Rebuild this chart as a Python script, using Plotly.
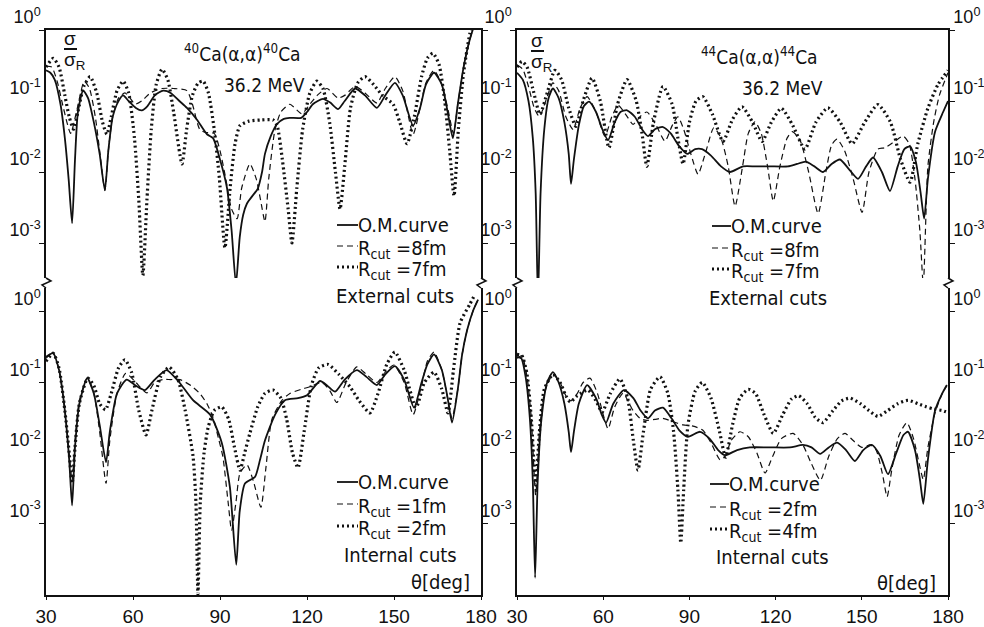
import plotly.graph_objects as go

# ---------------- data (theta in deg, sigma/sigma_R) ----------------
# top-left: 40Ca external cuts
tl_om_x = [30, 31.5, 33, 35, 36.5, 37.8, 39.0, 40.0, 41.0, 42.8, 44.5, 46.5, 48.5, 50.3, 51.5, 53, 55, 56.6, 58.5, 61, 63, 65, 67.5, 70.4, 73, 76, 78.6, 82, 85.5, 87.6, 90, 92.4, 94, 95.5, 96.8, 98, 99.3, 101, 103, 104.5, 105.5, 107.5, 109.6, 112, 114, 118, 120, 122, 125.5, 128, 130.7, 133, 136.6, 140, 144.1, 147, 150.3, 153, 156.6, 159, 161, 163.8, 166.5, 168.5, 170.3, 172, 174, 176, 177.5, 179]
tl_om_y = [0.27, 0.25, 0.2, 0.09, 0.03, 0.008, 0.0019, 0.015, 0.07, 0.14, 0.11, 0.05, 0.018, 0.0055, 0.02, 0.06, 0.10, 0.12, 0.1, 0.08, 0.074, 0.085, 0.12, 0.14, 0.13, 0.1, 0.08, 0.055, 0.034, 0.03, 0.015, 0.006, 0.0015, 0.00026, 0.0012, 0.0025, 0.0036, 0.0045, 0.0058, 0.01, 0.018, 0.032, 0.047, 0.056, 0.058, 0.058, 0.07, 0.09, 0.107, 0.095, 0.077, 0.1, 0.15, 0.12, 0.08, 0.12, 0.18, 0.12, 0.045, 0.08, 0.17, 0.25, 0.17, 0.07, 0.03, 0.09, 0.3, 0.7, 1.1, 1.5]
tl_r8_x = [30, 32, 34, 36, 38.5, 40.5, 43.2, 45, 47, 48.5, 50.3, 51.5, 53, 55, 57.2, 59, 60.7, 63, 66, 70, 74, 78.6, 80.5, 83, 85, 88, 90, 92, 94, 95.9, 97.5, 100.3, 102.5, 104, 105.5, 106.8, 108.9, 111, 114.1, 118.2, 121, 123.5, 126.9, 130.7, 133, 136.6, 140, 144.1, 147, 150.3, 153, 156.6, 159, 161, 163.8, 166.5, 168.5, 170.5, 172, 174, 176, 177.5, 179]
tl_r8_y = [0.31, 0.3, 0.18, 0.08, 0.035, 0.07, 0.19, 0.15, 0.06, 0.02, 0.0055, 0.02, 0.06, 0.11, 0.13, 0.11, 0.09, 0.1, 0.13, 0.15, 0.15, 0.14, 0.09, 0.04, 0.036, 0.035, 0.02, 0.008, 0.003, 0.0022, 0.006, 0.013, 0.008, 0.004, 0.002, 0.008, 0.038, 0.07, 0.09, 0.066, 0.09, 0.12, 0.15, 0.11, 0.12, 0.16, 0.13, 0.094, 0.15, 0.22, 0.14, 0.034, 0.08, 0.18, 0.27, 0.17, 0.08, 0.035, 0.09, 0.3, 0.7, 1.1, 1.5]
tl_r7_x = [30, 32.5, 34.5, 36.5, 38, 39.5, 41, 43, 45.2, 47.5, 49.5, 51, 52.5, 54.5, 56.6, 58.5, 60.5, 62, 63.4, 64.8, 66.3, 68, 70, 72, 74, 76.9, 78.5, 80.5, 82.5, 84.2, 86, 88, 89.8, 91.7, 93.5, 95.2, 96.9, 100, 104, 108.3, 109.7, 111.5, 113.5, 114.8, 116.5, 118.5, 121, 123.4, 125.5, 127.8, 129.8, 131.4, 133, 135, 137.5, 140, 143, 146, 149.7, 152, 154.5, 157, 159.5, 161.5, 163.4, 165.5, 167.5, 169.2, 170.7, 172.2, 174, 176.2, 178]
tl_r7_y = [0.3, 0.4, 0.3, 0.12, 0.06, 0.04, 0.07, 0.16, 0.22, 0.13, 0.05, 0.034, 0.06, 0.14, 0.19, 0.13, 0.03, 0.004, 0.00035, 0.004, 0.04, 0.17, 0.28, 0.2, 0.07, 0.013, 0.04, 0.12, 0.18, 0.19, 0.13, 0.04, 0.008, 0.00085, 0.006, 0.025, 0.045, 0.052, 0.054, 0.054, 0.045, 0.015, 0.003, 0.001, 0.006, 0.04, 0.13, 0.19, 0.15, 0.05, 0.01, 0.003, 0.012, 0.08, 0.18, 0.22, 0.17, 0.12, 0.09, 0.05, 0.025, 0.06, 0.22, 0.4, 0.47, 0.33, 0.1, 0.02, 0.0046, 0.04, 0.25, 0.9, 1.5]

# top-right: 44Ca external cuts
tr_om_x = [30, 32, 34, 35.5, 36.5, 37.3, 38.2, 39.5, 41, 42.5, 44.5, 46.5, 48, 48.8, 49.8, 51.5, 53.3, 55.1, 57.5, 59.7, 61.7, 64, 66, 68.3, 71, 73.5, 75.6, 78, 80.8, 83.5, 86.5, 89.3, 92, 94.4, 97.5, 101, 104.1, 108.7, 113, 118, 124.3, 127.5, 130.5, 133.5, 136.5, 139.5, 142.4, 145.5, 148.7, 151.5, 153.9, 157, 159.8, 162.5, 164.8, 166.8, 168.8, 170.5, 171.7, 173, 175.5, 178.3, 180]
tr_om_y = [0.25, 0.2, 0.1, 0.03, 0.005, 0.00015, 0.005, 0.04, 0.11, 0.15, 0.11, 0.05, 0.018, 0.0068, 0.015, 0.045, 0.085, 0.098, 0.07, 0.04, 0.028, 0.05, 0.07, 0.074, 0.06, 0.04, 0.032, 0.04, 0.043, 0.035, 0.023, 0.018, 0.021, 0.021, 0.017, 0.012, 0.01, 0.012, 0.012, 0.012, 0.012, 0.013, 0.014, 0.012, 0.01, 0.013, 0.015, 0.011, 0.008, 0.012, 0.016, 0.01, 0.0054, 0.012, 0.021, 0.023, 0.014, 0.005, 0.0022, 0.008, 0.037, 0.07, 0.1]
tr_r8_x = [30, 32, 34, 36, 37.8, 40, 42.5, 44.5, 47, 49.5, 52, 54.4, 57.5, 60.6, 63, 65.2, 67.8, 70.4, 72.8, 75.2, 78.5, 81.5, 84, 86, 88, 90.5, 93, 95.5, 98.5, 101, 103.5, 105.9, 108.5, 110.5, 112.8, 115, 117.2, 119.2, 121.5, 124, 125.8, 128.5, 131.5, 134.8, 137.5, 139.5, 141.4, 144, 147, 150.1, 152.5, 155.6, 158, 161.5, 164.4, 166.5, 168.5, 170.2, 171.4, 173, 175, 177, 180]
tr_r8_y = [0.32, 0.28, 0.16, 0.08, 0.06, 0.1, 0.18, 0.14, 0.06, 0.04, 0.08, 0.115, 0.07, 0.032, 0.06, 0.087, 0.065, 0.047, 0.06, 0.07, 0.045, 0.027, 0.045, 0.06, 0.04, 0.018, 0.0093, 0.018, 0.042, 0.03, 0.012, 0.0033, 0.012, 0.035, 0.051, 0.035, 0.012, 0.0039, 0.012, 0.03, 0.037, 0.028, 0.01, 0.0026, 0.01, 0.024, 0.029, 0.02, 0.008, 0.0027, 0.01, 0.021, 0.022, 0.027, 0.032, 0.025, 0.008, 0.0015, 0.00026, 0.012, 0.05, 0.12, 0.25]
tr_r7_x = [30, 31.7, 33.5, 35.5, 38, 40.5, 43.2, 45.5, 48, 50.5, 53, 56.1, 59, 62, 65, 68.3, 71.5, 73.5, 75.2, 77.5, 80.8, 84, 86, 87.8, 90, 92.3, 94.7, 98, 101.7, 105, 108.3, 112, 115.3, 118.5, 122, 126, 130.2, 134, 138.2, 142.5, 146.6, 151, 155.6, 160, 163.5, 166.8, 169.5, 173, 176.5, 180]
tr_r7_y = [0.3, 0.36, 0.3, 0.15, 0.065, 0.13, 0.27, 0.2, 0.08, 0.044, 0.1, 0.21, 0.1, 0.022, 0.09, 0.2, 0.1, 0.035, 0.012, 0.05, 0.16, 0.09, 0.03, 0.013, 0.05, 0.1, 0.115, 0.065, 0.027, 0.055, 0.083, 0.05, 0.027, 0.05, 0.079, 0.045, 0.021, 0.05, 0.08, 0.05, 0.025, 0.05, 0.089, 0.05, 0.015, 0.0072, 0.025, 0.079, 0.17, 0.27]

# bottom-left: 40Ca internal cuts
bl_om_x = [30, 32.4, 34.5, 36.5, 38, 39, 40, 41.5, 44.2, 46.5, 48.5, 50.7, 52, 54.5, 57.8, 61, 64.1, 67.5, 71.6, 76, 80.7, 86.6, 90.6, 93.4, 95.6, 96.8, 98.6, 102.1, 103.8, 105.5, 109, 112.4, 116.9, 120, 124.5, 127, 129.7, 133, 137.2, 140.5, 144.1, 147, 150.3, 153.5, 156.9, 159.5, 161.5, 163.8, 166.5, 168.5, 170, 172, 173.5, 175.2, 177.3, 179]
bl_om_y = [0.23, 0.26, 0.15, 0.04, 0.008, 0.0018, 0.012, 0.05, 0.115, 0.07, 0.025, 0.0074, 0.02, 0.07, 0.11, 0.09, 0.078, 0.11, 0.15, 0.1, 0.056, 0.035, 0.014, 0.0033, 0.00026, 0.0015, 0.0037, 0.0046, 0.008, 0.015, 0.035, 0.056, 0.06, 0.066, 0.105, 0.09, 0.074, 0.11, 0.15, 0.12, 0.092, 0.13, 0.17, 0.11, 0.044, 0.1, 0.18, 0.25, 0.15, 0.06, 0.027, 0.08, 0.25, 0.55, 1.05, 1.5]
bl_r1_x = [30, 32.4, 34.5, 36.5, 38, 39, 40, 41.5, 44.2, 46.5, 48.5, 50.7, 52, 54.5, 57.5, 61, 64.8, 67.5, 70.4, 73, 76.2, 80, 83, 85.5, 87.6, 89.5, 91, 92.8, 94, 95.5, 96.9, 99.3, 101.5, 104.1, 105.8, 107.9, 111.4, 114.1, 118, 121, 125.2, 128, 130.3, 133.5, 137.2, 140.5, 144.1, 147, 150, 153.5, 156.6, 159.5, 161.5, 163.8, 166.5, 168.5, 170, 172, 173.5, 175.2, 177.3, 179]
bl_r1_y = [0.22, 0.27, 0.15, 0.04, 0.01, 0.004, 0.015, 0.055, 0.115, 0.07, 0.02, 0.0037, 0.015, 0.07, 0.135, 0.1, 0.071, 0.1, 0.11, 0.11, 0.11, 0.09, 0.07, 0.05, 0.032, 0.016, 0.0088, 0.002, 0.0008, 0.002, 0.0052, 0.0068, 0.004, 0.0017, 0.006, 0.03, 0.056, 0.07, 0.08, 0.087, 0.1, 0.075, 0.052, 0.1, 0.166, 0.13, 0.1, 0.14, 0.177, 0.1, 0.035, 0.09, 0.2, 0.27, 0.15, 0.06, 0.031, 0.08, 0.25, 0.55, 1.05, 1.5]
bl_r2_x = [30, 32.5, 34.5, 36.5, 38, 39, 40, 41.5, 44.4, 46.5, 48.5, 50.5, 52.5, 55, 57.2, 59.5, 62, 64.5, 66.5, 69.5, 72.5, 75.5, 78, 80.7, 81.7, 82.4, 83.2, 84.5, 85.9, 88, 90.6, 93, 95, 96.9, 98.5, 100.3, 103, 105.5, 108.3, 111, 113, 115, 116.9, 119, 121.5, 124, 127.3, 131, 134.8, 138, 141.7, 144.5, 147.5, 150.3, 153.5, 157.6, 160.5, 163.8, 166.5, 168.6, 170.5, 172.8, 176.2, 178]
bl_r2_y = [0.2, 0.26, 0.16, 0.04, 0.01, 0.0037, 0.012, 0.05, 0.115, 0.09, 0.05, 0.041, 0.07, 0.16, 0.21, 0.14, 0.04, 0.018, 0.04, 0.12, 0.165, 0.11, 0.04, 0.009, 0.002, 0.0001, 0.002, 0.01, 0.023, 0.04, 0.045, 0.03, 0.012, 0.0057, 0.01, 0.019, 0.045, 0.07, 0.078, 0.06, 0.03, 0.01, 0.0062, 0.02, 0.09, 0.16, 0.18, 0.13, 0.087, 0.055, 0.037, 0.07, 0.18, 0.27, 0.15, 0.044, 0.1, 0.14, 0.08, 0.037, 0.15, 0.7, 1.3, 1.8]

# bottom-right: 44Ca internal cuts
br_om_x = [30, 31.5, 33, 34.5, 35.5, 36.3, 37.2, 38.5, 40.5, 42.5, 44.5, 46.5, 48, 48.8, 49.8, 51.5, 54.4, 57.5, 59.5, 61, 63.5, 67.2, 70.5, 73, 75.6, 78, 80.8, 84, 86.5, 89.5, 93.7, 97, 100, 102.4, 106.6, 111, 118, 125, 129.5, 132.5, 135.5, 138.5, 141.4, 144.5, 147.6, 150.5, 153.5, 156.5, 159.1, 162, 164.5, 166.1, 168.5, 170.3, 171.4, 173, 175.5, 178, 179.6]
br_om_y = [0.23, 0.22, 0.12, 0.03, 0.004, 0.00017, 0.004, 0.03, 0.1, 0.14, 0.1, 0.05, 0.02, 0.0103, 0.02, 0.05, 0.092, 0.06, 0.035, 0.027, 0.05, 0.078, 0.06, 0.04, 0.031, 0.04, 0.044, 0.03, 0.021, 0.017, 0.02, 0.016, 0.011, 0.0093, 0.011, 0.012, 0.012, 0.012, 0.013, 0.012, 0.0097, 0.012, 0.014, 0.011, 0.0077, 0.011, 0.013, 0.009, 0.005, 0.01, 0.018, 0.02, 0.011, 0.004, 0.0019, 0.008, 0.04, 0.07, 0.092]
br_r2_x = [30, 31.7, 33.5, 35, 36.5, 37.8, 39.5, 42.5, 45, 47, 48.8, 51, 53, 55.4, 58, 60, 61.7, 64, 66.9, 70.4, 72.8, 75.2, 78, 80.8, 84, 87.8, 91.3, 94.7, 97.5, 100.7, 102.5, 104.5, 107.6, 110.5, 113.5, 116.3, 119, 122, 126.1, 129.5, 132.5, 135.6, 138.5, 141.5, 144.2, 147, 150, 153, 155, 157.2, 158.8, 160.5, 163, 165.7, 168, 170, 171.4, 173, 175.5, 178, 179.6]
br_r2_y = [0.22, 0.24, 0.12, 0.03, 0.0025, 0.02, 0.07, 0.13, 0.1, 0.065, 0.055, 0.07, 0.1, 0.115, 0.07, 0.035, 0.022, 0.045, 0.07, 0.04, 0.031, 0.029, 0.03, 0.031, 0.028, 0.025, 0.024, 0.021, 0.014, 0.008, 0.009, 0.015, 0.02, 0.017, 0.01, 0.0052, 0.009, 0.016, 0.019, 0.013, 0.007, 0.0041, 0.009, 0.016, 0.019, 0.015, 0.012, 0.013, 0.011, 0.005, 0.0024, 0.006, 0.018, 0.027, 0.016, 0.007, 0.0042, 0.012, 0.037, 0.07, 0.09]
br_r4_x = [30, 31.7, 33.5, 35, 36.5, 37.8, 39.5, 42.5, 45, 47, 48.5, 51, 54.7, 57.5, 59.6, 62.5, 65.8, 68.5, 70.5, 72.1, 74, 76.5, 79.8, 82.5, 84.5, 86, 87, 88, 89.5, 92, 94.5, 97.5, 100.5, 102.6, 105, 107.5, 110.5, 113, 116, 119.2, 122.5, 125.5, 128, 131, 133.8, 136.5, 140, 143, 145.9, 149.5, 152.5, 155.6, 159, 162.5, 166.1, 169.5, 172.5, 175, 178, 179.6]
br_r4_y = [0.25, 0.24, 0.13, 0.03, 0.0035, 0.02, 0.08, 0.13, 0.1, 0.065, 0.053, 0.065, 0.078, 0.055, 0.038, 0.07, 0.112, 0.06, 0.015, 0.0057, 0.02, 0.08, 0.12, 0.07, 0.02, 0.003, 0.00053, 0.003, 0.025, 0.075, 0.1, 0.06, 0.02, 0.0087, 0.025, 0.06, 0.08, 0.07, 0.035, 0.019, 0.035, 0.058, 0.065, 0.05, 0.032, 0.027, 0.04, 0.055, 0.06, 0.05, 0.04, 0.033, 0.04, 0.05, 0.056, 0.05, 0.045, 0.042, 0.04, 0.038]

x_ticks = [30, 60, 90, 120, 150, 180]
y_ticks = [1, 0.1, 0.01, 0.001]
y_ticktext = ["10<sup>0</sup>", "10<sup>-1</sup>", "10<sup>-2</sup>", "10<sup>-3</sup>"]

leg_om = "O.M.curve"
leg_tl = ["R<sub>cut</sub> =8fm", "R<sub>cut</sub> =7fm"]
leg_tr = ["R<sub>cut</sub> =8fm", "R<sub>cut</sub> =7fm"]
leg_bl = ["R<sub>cut</sub> =1fm", "R<sub>cut</sub> =2fm"]
leg_br = ["R<sub>cut</sub> =2fm", "R<sub>cut</sub> =4fm"]

# ---------------- layout geometry ----------------
W, H = 984, 627
ML, MR, MT, MB = 46, 36, 30, 32
PW = W - ML - MR
PH = H - MT - MB


def fx(px):
    return (px - ML) / PW


def fy(py):
    return (H - MB - py) / PH


FONT = "DejaVu Sans Condensed, Liberation Sans, sans-serif"
TFONT = "Liberation Sans"
BLACK = "#111111"
STY_OM = dict(color=BLACK, width=1.8)
STY_A = dict(color=BLACK, width=1.2, dash="6px,4px")
STY_B = dict(color=BLACK, width=3.2, dash="2px,3px")

fig = go.Figure()

panels = [
    ("x", "y", "y", [(tl_om_x, tl_om_y, STY_OM, leg_om), (tl_r8_x, tl_r8_y, STY_A, leg_tl[0]), (tl_r7_x, tl_r7_y, STY_B, leg_tl[1])]),
    ("x2", "y5", "y2", [(tr_om_x, tr_om_y, STY_OM, leg_om), (tr_r8_x, tr_r8_y, STY_A, leg_tr[0]), (tr_r7_x, tr_r7_y, STY_B, leg_tr[1])]),
    ("x3", "y3", "y3", [(bl_om_x, bl_om_y, STY_OM, leg_om), (bl_r1_x, bl_r1_y, STY_A, leg_bl[0]), (bl_r2_x, bl_r2_y, STY_B, leg_bl[1])]),
    ("x4", "y6", "y4", [(br_om_x, br_om_y, STY_OM, leg_om), (br_r2_x, br_r2_y, STY_A, leg_br[0]), (br_r4_x, br_r4_y, STY_B, leg_br[1])]),
]
for xa, ya_om, ya, curves in panels:
    for i, (xs, ys, sty, name) in enumerate(curves):
        fig.add_trace(go.Scatter(x=xs, y=ys, mode="lines", line=dict(**sty, shape="spline", smoothing=0.6),
                                 xaxis=xa, yaxis=(ya_om if i == 0 else ya), name=name, showlegend=False))

X_LEFT = [0, fx(481)]
X_RIGHT = [fx(517), 1]
Y_TOP = [fy(278), 1]
Y_BOT = [0, fy(288)]
R_TOP = [-3.493, 0]
R_BOT = [-4.014, 0.34]

common_y = dict(type="log", tickvals=y_ticks, ticktext=y_ticktext, showline=True, linecolor=BLACK, linewidth=1.5,
                ticks="outside", ticklen=5, tickcolor=BLACK, showgrid=False, zeroline=False, automargin=False,
                tickfont=dict(family=TFONT, size=18, color=BLACK), ticklabelposition="outside top")
top_x = dict(range=[30, 180], side="top", showline=True, linecolor=BLACK, linewidth=1.5, ticks="",
             showticklabels=False, showgrid=False, zeroline=False, automargin=False)
bot_x = dict(range=[30, 180], tickvals=x_ticks, showline=True, linecolor=BLACK, linewidth=1.5, ticks="outside",
             ticklen=3, tickcolor=BLACK, showgrid=False, zeroline=False, automargin=False,
             tickfont=dict(family=TFONT, size=19, color=BLACK))

fig.update_layout(
    width=W, height=H, margin=dict(l=ML, r=MR, t=MT, b=MB, autoexpand=False),
    paper_bgcolor="white", plot_bgcolor="white", showlegend=False,
    xaxis=dict(domain=X_LEFT, anchor="y", **top_x),
    xaxis2=dict(domain=X_RIGHT, anchor="y2", **top_x),
    xaxis3=dict(domain=X_LEFT, anchor="y3", **bot_x),
    xaxis4=dict(domain=X_RIGHT, anchor="y4", **bot_x),
    yaxis=dict(domain=Y_TOP, anchor="x", range=R_TOP, mirror="ticks", **common_y),
    yaxis2=dict(domain=Y_TOP, anchor="x2", range=R_TOP, **common_y),
    yaxis3=dict(domain=Y_BOT, anchor="x3", range=R_BOT, mirror="ticks", **common_y),
    yaxis4=dict(domain=Y_BOT, anchor="x4", range=R_BOT, **common_y),
    yaxis5=dict(overlaying="y2", anchor="x2", side="right", range=R_TOP, **common_y),
    yaxis6=dict(overlaying="y4", anchor="x4", side="right", range=R_BOT, **common_y),
)

annos = []
shapes = []


def text(px, py, s, size=20, xanchor="left", family=FONT):
    annos.append(dict(x=fx(px), y=fy(py), xref="paper", yref="paper", text=s, showarrow=False,
                      xanchor=xanchor, yanchor="middle", font=dict(family=family, size=size, color=BLACK)))


def seg(x0, y0, x1, y1, sty):
    shapes.append(dict(type="line", xref="paper", yref="paper", x0=fx(x0), y0=fy(y0), x1=fx(x1), y1=fy(y1),
                       line=sty))


# titles
text(242, 53, "<sup>40</sup>Ca(α,α)<sup>40</sup>Ca", 19, "center")
text(264, 85, "36.2 MeV", 19, "center")
text(759, 56, "<sup>44</sup>Ca(α,α)<sup>44</sup>Ca", 19, "center")
text(782, 88, "36.2 MeV", 19, "center")

# sigma / sigma_R labels
for (sx, sy) in [(62, 39), (529, 41)]:
    text(sx, sy, "σ", 19, family=TFONT)
    seg(sx + 2, sy + 10, sx + 15, sy + 10, dict(color=BLACK, width=2))
    text(sx, sy + 22, "σ<sub>R</sub>", 19, family=TFONT)

# keys
keys = [
    (337, 360, [225, 246, 267], [leg_om] + leg_tl, "External cuts", (395, 296), None),
    (712, 733, [226, 248, 269], [leg_om] + leg_tr, "External cuts", (768, 298), None),
    (337, 360, [482, 504, 526], [leg_om] + leg_bl, "Internal cuts", (400, 555), (440, 582)),
    (710, 731, [484, 507, 529], [leg_om] + leg_br, "Internal cuts", (772, 557), (906, 583)),
]
for x0, x1, ys, labels, foot, fpos, tpos in keys:
    for yy, lab, sty in zip(ys, labels, [STY_OM, STY_A, STY_B]):
        seg(x0, yy, x1 - 2, yy, sty)
        text(x1 - 4, yy + (3 if "sub" in lab else 0), lab, 20)
    text(fpos[0], fpos[1], foot, 20, "center")
    if tpos:
        text(tpos[0], tpos[1], "θ[deg]", 20, "center")

# axis breaks
for bx in [46, 481, 517, 948]:
    shapes.append(dict(type="path", xref="paper", yref="paper",
                       path="M {a},{b} L {c},{d} L {e},{f} L {a},{g}".format(
                           a=fx(bx), b=fy(278), c=fx(bx + 5), d=fy(281), e=fx(bx - 4), f=fy(285), g=fy(288)),
                       line=dict(color=BLACK, width=1.5)))

fig.update_layout(annotations=annos, shapes=shapes)
fig.write_html("out.html")
